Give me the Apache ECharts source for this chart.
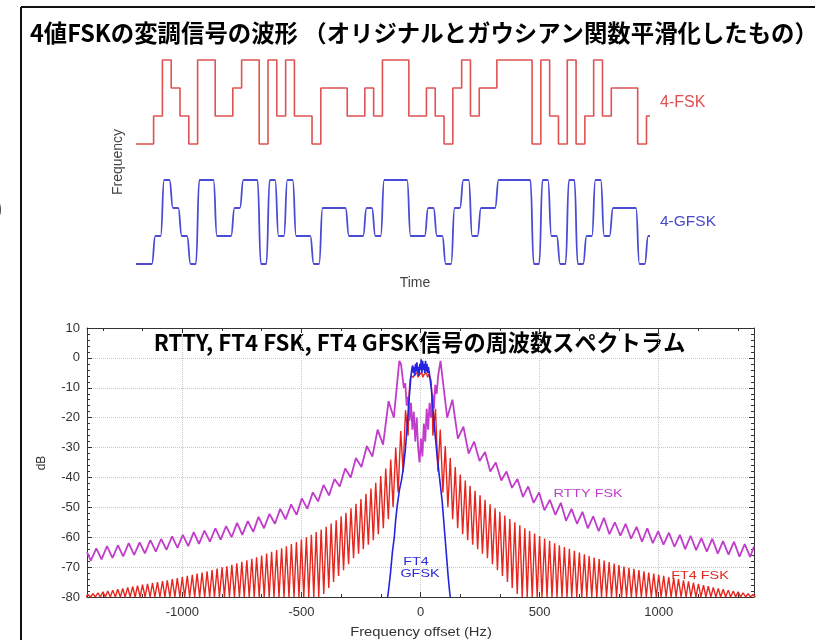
<!DOCTYPE html>
<html><head><meta charset="utf-8">
<script src="https://cdn.jsdelivr.net/npm/echarts@6/dist/echarts.min.js"></script>
<style>html,body{margin:0;padding:0;background:#fff}#c{width:815px;height:640px}</style>
</head><body><div id="c"></div>
<script>
// ---- top panel: 4-level symbol sequence (0..3) ----
const symbolLevels = [0,0,1,3,2,1,0,3,3,1, 1,2,3,3,0,3,1,3,1,1, 0,2,2,2,1,1,2,1,3,3, 3,1,1,2,1,0,2,3,1,2, 2,3,3,3,3,0,3,1,0,3, 0,1,3,1,2,2,2,0,1];
const timeSpan = 58.4; // visible number of symbol periods

// ---- bottom panel: spectra (Hz offset magnitude, dB) ----
// FT4 FSK: sidelobe peaks and nulls
const fskLobeHz = [63,83,104,125,146,167,188,208,229,250,271,292,313,333,354,375,396,417,438,458,479,500,521,542,563,583,604,625,646,667,688,708,729,750,771,792,813,833,854,875,896,917,938,958,979,1000,1021,1042,1063,1083,1104,1125,1146,1167,1188,1208,1229,1250,1271,1292,1313,1333,1354,1375,1396];
const fskLobeDbR = [-17,-24,-29.5,-33.5,-36.5,-39,-41,-42.8,-44.5,-46,
 -47.5,-49,-50.3,-51.5,-52.7,-53.9,-55,-56,-57,-57.9,
 -58.8,-59.6,-60.4,-61.2,-62,-62.7,-63.3,-63.9,-64.5,-65.1,
 -65.7,-66.3,-66.8,-67.3,-67.8,-68.3,-68.8,-69.3,-69.8,-70.2,
 -70.6,-71,-71.4,-71.8,-72.2,-72.6,-72.9,-73.3,-73.6,-74,
 -74.4,-74.8,-75.2,-75.6,-76,-76.4,-76.8,-77.1,-77.4,-77.7,
 -78,-78.3,-78.6,-78.9,-79.2];
const fskLobeDbL = [-17.5,-24.5,-30,-34,-37,-39.5,-41.8,-43.7,-45.5,-47.2,
 -48.8,-50.3,-51.8,-53,-54.3,-55.4,-56.5,-57.4,-58.3,-59.2,
 -60,-60.8,-61.6,-62.3,-63,-63.7,-64.3,-64.9,-65.5,-66.1,
 -66.7,-67.2,-67.7,-68.2,-68.7,-69.2,-69.7,-70.1,-70.5,-71,
 -71.4,-71.8,-72.2,-72.6,-72.9,-73.3,-73.7,-74,-74.4,-74.7,
 -75,-75.3,-75.6,-75.9,-76.2,-76.5,-76.8,-77.1,-77.4,-77.7,
 -78,-78.3,-78.6,-78.9,-79.2];
const fskNullHz = [52,73,94,115,135,156,177,198,219,240,260,281,302,323,344,365,385,406,427,448,469,490,510,531,552,573,594,615,635,656,677,698,719,740,760,781,802,823,844,865,885,906,927,948,969,990,1010,1031,1052,1073,1094,1115,1135,1156,1177,1198,1219,1240,1260,1281,1302,1323,1344,1365,1385,1406];
const fskNullDb = [-26,-38,-45,-50,-54,-57,-59,-61,-62.5,-64,-65.5,-67,-69,-71,-73,-75,-77,-79,
 -80,-80,-80,-80,-80,-80,-80,-80,-80,-80,-80,-80,
 -80,-80,-80,-80,-80,-80,-80,-80,-80,-80,-80,-80,
 -80,-80,-80,-80,-80,-80,-80,-80,-80,-80,-80,-80,
 -80,-80,-80,-80,-80,-80,-80,-80,-80,-80,-80,-80];
const fskCenterHz = [-48,-44,-40,-35,-30,-25,-20,-15,-10,-5,0,5,10,15,20,25,30,35,40,44,48];
const fskCenterDb = [-12,-7.5,-6,-5.5,-6.5,-5.5,-6,-5,-6.5,-5.5,-6,-5,-6.5,-5.5,-6,-5,-6.5,-5.5,-6,-7.5,-12];

// RTTY FSK: ripple peaks and dips
const rttyPeakHz = [89,134,180,225,271,316,361,407,452,498,543,589,634,680,725,770,816,861,907,952,998,1043,1089,1134,1179,1225,1270,1316,1361];
const rttyDipHz = [112,157,202,248,293,339,384,430,475,520,566,611,657,702,748,793,839,884,930,975,1020,1066,1111,1157,1202,1248,1293,1339,1384];
const rttyPeakDbR = [-0.5,-14,-23,-28,-31.5,-35,-38,-40.5,-43,-45,-47.5,-48.5,-50.5,-51.5,-53,-53.5,-55,-55.5,-56.5,-57,-58,-58.5,-59.2,-59.5,-60.3,-60.5,-61.3,-61.5,-62.3];
const rttyDipDbR = [-20,-27,-32,-34.5,-38,-41,-43.5,-46.5,-48.5,-51,-52.5,-54.5,-55.5,-57,-58,-59,-59.5,-60.5,-61.5,-62,-62.5,-63.2,-64,-64.3,-64.8,-65.5,-65.8,-66.5,-66.6];
const rttyPeakDbL = [-1,-14.5,-24,-29.5,-33.5,-37,-40.5,-42.5,-45,-47,-49,-50.5,-52.2,-53.2,-54.6,-55.2,-56.3,-57,-57.8,-58.3,-59.2,-59.7,-60.6,-61,-61.7,-62,-62.7,-63,-63.7];
const rttyDipDbL = [-20,-29,-33,-36.5,-40,-43,-46,-48,-50.5,-52.5,-54,-55.5,-57,-58.2,-59.2,-60,-60.8,-61.5,-62.2,-63,-63.6,-64.2,-64.8,-65.4,-65.9,-66.4,-66.9,-67.4,-67.8];
const rttyCenterHz = [-82,-76,-70,-64,-58,-52,-46,-40,-34,-28,-22,-16,-10,-4,2,8,14,20,26,32,38,44,50,56,62,68,74,80,84];
const rttyCenterDb = [-2,-6,-10,-8.5,-16,-13,-21,-15,-24,-18,-28,-20,-30,-35,-27,-33,-22,-28,-17,-24,-15,-20,-12,-17,-9,-12,-6,-3,-1];
const rttyEdgeDb = [-65,-63];

// FT4 GFSK
const gfskHz = [-138,-133,-126,-118,-110,-104,-97,-88,-80,-72,-64,-56,-50,-44,-40,-36,-33,-30,-27,-24,-21,-18,-15,-12,-9,-6,-3,0,3,6,9,12,15,18,21,24,27,30,33,36,40,45,50,56,63,70,77,84,91,97,103,110,116,122,125];
const gfskDb = [-80,-77,-72,-65,-60,-54,-49,-44,-41,-37,-31,-23,-16,-10,-6,-3.5,-2.5,-5,-3,-6,-2,-4.5,-1.5,-5,-3,-6,-2,-4,-0.5,-5,-1,-4,-2,-5,-1,-4.5,-2,-5,-3,-4.5,-7,-10,-15,-21,-27,-33,-38,-43,-48,-54,-60,-67,-73,-78,-80];

// ---- tables built from the arrays ----
const fskWave = [];
symbolLevels.forEach((s, k) => { fskWave.push([k, s], [Math.min(k + 1, timeSpan), s]); });
const gfskWave = [[0, symbolLevels[0]]];
symbolLevels.forEach((s, k) => {
  const a = k + 0.2, b = Math.min(k + 0.8, timeSpan);
  if (a < timeSpan) gfskWave.push([a, s]);
  if (b > a) gfskWave.push([b, s]);
});

const fskData = [];
for (let i = fskLobeHz.length - 1; i >= 0; i--) {
  fskData.push([-fskNullHz[i + 1], fskNullDb[i + 1]]);
  fskData.push([-fskLobeHz[i], fskLobeDbL[i]]);
}
fskData.push([-fskNullHz[0], fskNullDb[0]]);
fskCenterHz.forEach((f, i) => fskData.push([f, fskCenterDb[i]]));
fskData.push([fskNullHz[0], fskNullDb[0]]);
for (let i = 0; i < fskLobeHz.length; i++) {
  fskData.push([fskLobeHz[i], fskLobeDbR[i]]);
  fskData.push([fskNullHz[i + 1], fskNullDb[i + 1]]);
}

const rttyData = [[-1400, rttyEdgeDb[0]]];
for (let i = rttyPeakHz.length - 1; i >= 0; i--) {
  rttyData.push([-rttyDipHz[i], rttyDipDbL[i]]);
  rttyData.push([-rttyPeakHz[i], rttyPeakDbL[i]]);
}
rttyCenterHz.forEach((f, i) => rttyData.push([f, rttyCenterDb[i]]));
for (let i = 0; i < rttyPeakHz.length; i++) {
  rttyData.push([rttyPeakHz[i], rttyPeakDbR[i]]);
  rttyData.push([rttyDipHz[i], rttyDipDbR[i]]);
}
rttyData.push([1400, rttyEdgeDb[1]]);

const gfskData = gfskHz.map((f, i) => [f, gfskDb[i]]);

// ---- chart ----
const AX = '#333';
const lblFont = '"Liberation Sans", Arial, sans-serif';
const specX = (pos, labels) => ({
  gridIndex: 2, type: 'value', min: -1400, max: 1400, position: pos,
  axisLine: { show: true, onZero: false, lineStyle: { color: AX, width: 1 } },
  axisTick: { show: true, inside: true, length: 5, lineStyle: { color: AX } },
  minorTick: { show: true, splitNumber: 3, length: 3, lineStyle: { color: AX } },
  axisLabel: { show: labels, color: '#333', fontSize: 13, fontFamily: lblFont, margin: 9, showMinLabel: false, showMaxLabel: false,
    formatter: (v) => String(v) },
  splitLine: { show: labels, lineStyle: { type: 'dotted', color: '#c8c8c8' } }
});
const specY = (pos, labels) => ({
  gridIndex: 2, type: 'value', min: -80, max: 10, interval: 10, position: pos,
  axisLine: { show: true, onZero: false, lineStyle: { color: AX, width: 1 } },
  axisTick: { show: true, inside: true, length: 5, lineStyle: { color: AX } },
  minorTick: { show: true, splitNumber: 5, length: 3, lineStyle: { color: AX } },
  axisLabel: { show: labels, color: '#333', fontSize: 13, fontFamily: lblFont, margin: 7, formatter: (v) => String(v) },
  splitLine: { show: labels, lineStyle: { type: 'dotted', color: '#c8c8c8' } }
});
const hiddenX = (g) => ({ gridIndex: g, type: 'value', min: 0, max: timeSpan, show: false });
const hiddenY = (g) => ({ gridIndex: g, type: 'value', min: 0, max: 3, show: false });

const txt = (o) => Object.assign({ type: 'text', silent: true }, o);

const option = {
  animation: false,
  backgroundColor: '#fff',
  grid: [
    { left: 136, top: 60, width: 514, height: 84, outerBoundsMode: 'none' },
    { left: 136, top: 180, width: 514, height: 84, outerBoundsMode: 'none' },
    { left: 87, top: 328, width: 667, height: 269, outerBoundsMode: 'none' }
  ],
  xAxis: [hiddenX(0), hiddenX(1), specX('bottom', true), specX('top', false)],
  yAxis: [hiddenY(0), hiddenY(1), specY('left', true), specY('right', false)],
  series: [
    { type: 'line', xAxisIndex: 0, yAxisIndex: 0, data: fskWave, showSymbol: false, symbol: 'none', clip: false,
      lineStyle: { color: '#e05252', width: 1.6 } },
    { type: 'line', xAxisIndex: 1, yAxisIndex: 1, data: gfskWave, showSymbol: false, symbol: 'none', clip: false,
      smooth: 0.5, smoothMonotone: 'x', lineStyle: { color: '#4b4bd6', width: 1.8 } },
    { type: 'line', xAxisIndex: 2, yAxisIndex: 2, data: fskData, showSymbol: false, symbol: 'none',
      lineStyle: { color: '#e6261e', width: 1.4 } },
    { type: 'line', xAxisIndex: 2, yAxisIndex: 2, data: rttyData, showSymbol: false, symbol: 'none',
      lineStyle: { color: '#c23ccc', width: 1.8 } },
    { type: 'line', xAxisIndex: 2, yAxisIndex: 2, data: gfskData, showSymbol: false, symbol: 'none',
      lineStyle: { color: '#2424e0', width: 1.6 } }
  ],
  graphic: [
    { type: 'line', silent: true, shape: { x1: 21, y1: 7, x2: 815, y2: 7 }, style: { stroke: '#111', lineWidth: 2 } },
    { type: 'line', silent: true, shape: { x1: 21, y1: 7, x2: 21, y2: 640 }, style: { stroke: '#111', lineWidth: 2 } },
    txt({ x: -6, y: 209, style: { text: ')', fontSize: 24, fontWeight: 'bold', fill: '#111', align: 'left', verticalAlign: 'middle', textAlign: 'left', textVerticalAlign: 'middle' } }),
    txt({ x: 30, y: 33, style: { text: '4値FSKの変調信号の波形 （オリジナルとガウシアン関数平滑化したもの）', fontSize: 23.4, fontWeight: 'bold', fontFamily: '"Noto Sans CJK JP", sans-serif', fill: '#000', align: 'left', verticalAlign: 'middle', textAlign: 'left', textVerticalAlign: 'middle' } }),
    txt({ x: 660, y: 103, style: { text: '4-FSK', fontSize: 16, fontFamily: lblFont, fill: '#e05050', align: 'left', verticalAlign: 'middle', textAlign: 'left', textVerticalAlign: 'middle' } }),
    txt({ x: 660, y: 222, style: { text: '4-GFSK', fontSize: 15.5, fontFamily: lblFont, fill: '#4848d0', align: 'left', verticalAlign: 'middle', textAlign: 'left', textVerticalAlign: 'middle' } }),
    txt({ x: 118, y: 162, rotation: Math.PI / 2, style: { text: 'Frequency', fontSize: 14, fontFamily: lblFont, fill: '#444', align: 'center', verticalAlign: 'middle', textAlign: 'center', textVerticalAlign: 'middle' } }),
    txt({ x: 415, y: 283, style: { text: 'Time', fontSize: 14, fontFamily: lblFont, fill: '#444', align: 'center', verticalAlign: 'middle', textAlign: 'center', textVerticalAlign: 'middle' } }),
    txt({ x: 419.5, y: 343, style: { text: 'RTTY, FT4 FSK, FT4 GFSK信号の周波数スペクトラム', fontSize: 22.2, fontWeight: 'bold', fontFamily: '"Noto Sans CJK JP", sans-serif', fill: '#000', align: 'center', verticalAlign: 'middle', textAlign: 'center', textVerticalAlign: 'middle' } }),
    txt({ x: 42, y: 463, rotation: Math.PI / 2, style: { text: 'dB', fontSize: 12, fontFamily: lblFont, fill: '#333', align: 'center', verticalAlign: 'middle', textAlign: 'center', textVerticalAlign: 'middle' } }),
    txt({ x: 421, y: 633, scaleX: 1.23, style: { text: 'Frequency offset (Hz)', fontSize: 12, fontFamily: lblFont, fill: '#333', align: 'center', verticalAlign: 'middle', textAlign: 'center', textVerticalAlign: 'middle' } }),
    txt({ x: 588, y: 494, scaleX: 1.24, style: { text: 'RTTY FSK', fontSize: 11.6, fontFamily: lblFont, fill: '#c23ccc', align: 'center', verticalAlign: 'middle', textAlign: 'center', textVerticalAlign: 'middle' } }),
    txt({ x: 700, y: 576, scaleX: 1.24, style: { text: 'FT4 FSK', fontSize: 11.6, fontFamily: lblFont, fill: '#e6261e', align: 'center', verticalAlign: 'middle', textAlign: 'center', textVerticalAlign: 'middle' } }),
    txt({ x: 416, y: 562, scaleX: 1.24, style: { text: 'FT4', fontSize: 11.6, fontFamily: lblFont, fill: '#2a2ad8', align: 'center', verticalAlign: 'middle', textAlign: 'center', textVerticalAlign: 'middle' } }),
    txt({ x: 420, y: 573.5, scaleX: 1.24, style: { text: 'GFSK', fontSize: 11.6, fontFamily: lblFont, fill: '#2a2ad8', align: 'center', verticalAlign: 'middle', textAlign: 'center', textVerticalAlign: 'middle' } })
  ]
};

const chart = echarts.init(document.getElementById('c'), null, { renderer: 'canvas', width: 815, height: 640 });
chart.setOption(option);
</script>
</body></html>
